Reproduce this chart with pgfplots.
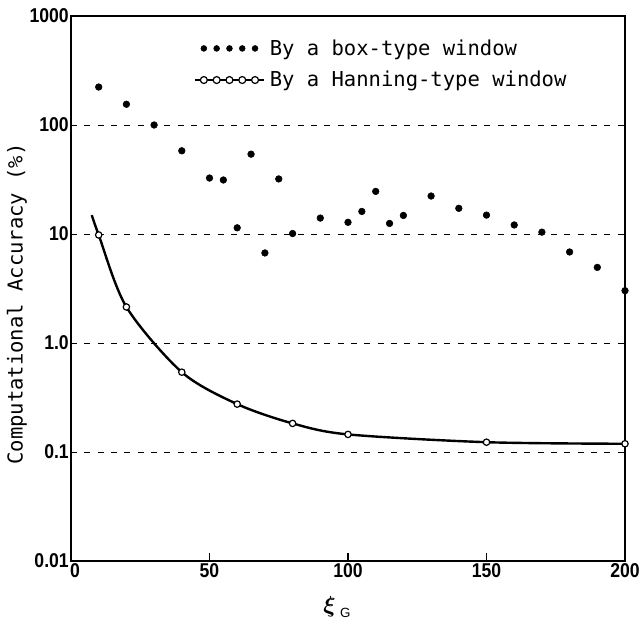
\documentclass[border=0pt]{standalone}
\usepackage{pgfplots}
\pgfplotsset{compat=1.18}
\usepackage{fontspec}
\usepackage{bm}
\setmainfont{Liberation Sans}
\newfontfamily\monofont{DejaVu Sans Mono}
\newcommand\tl[1]{\scalebox{0.88}[1]{\bfseries #1}}
\begin{document}
\begin{tikzpicture}
\begin{axis}[
  at={(53.25pt,44.25pt)}, anchor=south west,
  scale only axis, width=415.5pt, height=408.75pt,
  ymode=log, xmin=0, xmax=200, ymin=0.01, ymax=1000,
  xtick={0,50,100,150,200},
  xticklabels={\tl{\hspace{7pt}0},\tl{50},\tl{100},\tl{150},\tl{200}},
  ytick={0.01,0.1,1,10,100,1000},
  yticklabels={\tl{0.01},\tl{0.1},\tl{1.0},\tl{10},\tl{100},\tl{1000}},
  yminorticks=false, xminorticks=false,
  tick label style={font=\fontsize{15}{15}\selectfont},
  yticklabel style={inner xsep=1.5pt},
  xticklabel style={inner ysep=1.5pt},
  tick align=inside, xtick pos=left, ytick pos=left,
  ytick style={draw=none},
  xtick style={line width=0.9pt, black},
  major tick length=6pt,
  ymajorgrids,
  major grid style={dash pattern=on 4.5pt off 5.5pt, line width=0.6pt, black},
  axis line style={line width=1pt},
  clip=false,
  xlabel={$\bm{\xi}$\,\raisebox{-4pt}{\fontsize{10}{10}\selectfont G}},
  xlabel style={font=\fontsize{19}{19}\selectfont, at={(axis description cs:0.48,-0.0844)}, anchor=center},
  ylabel={Computational Accuracy (\%)},
  ylabel style={font=\monofont\fontsize{15.4}{18}\selectfont, at={(axis description cs:-0.0975,0.4716)}, anchor=center},
  legend style={at={(axis description cs:0.222,0.962)}, anchor=north west, draw=none, fill=none, inner sep=0pt, row sep=6.5pt,
    font=\monofont\fontsize{15.4}{18}\selectfont, nodes={inner xsep=4pt}},
  legend cell align=left,
]
\addplot[only marks, mark=*, mark size=2.5pt, black,
  legend image code/.code={
    \foreach \k in {0,...,4}{\fill[black] (6.75pt+\k*9.6pt,0pt) circle (2.2pt);}
    \path (0pt,0pt) (51.75pt,0pt);
  }] table {
x y
10 223
20 155
30 100
40 58
50 32.6
55 31.3
60 11.4
65 54
70 6.7
75 32
80 10.1
90 14.0
100 12.8
105 16.1
110 24.6
115 12.5
120 14.8
130 22.3
140 17.2
150 14.9
160 12.1
170 10.4
180 6.84
190 4.94
200 3.02
};
\addlegendentry{By a box-type window}
\addplot[smooth, line width=1.8pt, black, forget plot] table {
x y
7.5 14.9
10 9.8
20 2.14
40 0.54
60 0.275
80 0.183
100 0.145
150 0.123
200 0.119
};
\addplot[only marks, mark=*, mark size=2.4pt, mark options={fill=white, draw=black, line width=0.9pt},
  legend image code/.code={
    \draw[line width=0.9pt] (0pt,0pt) -- (51.75pt,0pt);
    \foreach \k in {0,...,4}{\filldraw[fill=white, draw=black, line width=0.9pt] (6.75pt+\k*9.6pt,0pt) circle (2.6pt);}
  }] table {
x y
10 9.8
20 2.14
40 0.54
60 0.275
80 0.183
100 0.145
150 0.123
200 0.119
};
\addlegendentry{By a Hanning-type window}
\end{axis}
\pgfresetboundingbox
\path[use as bounding box] (0,0) rectangle (481.5pt,465pt);
\end{tikzpicture}
\end{document}
